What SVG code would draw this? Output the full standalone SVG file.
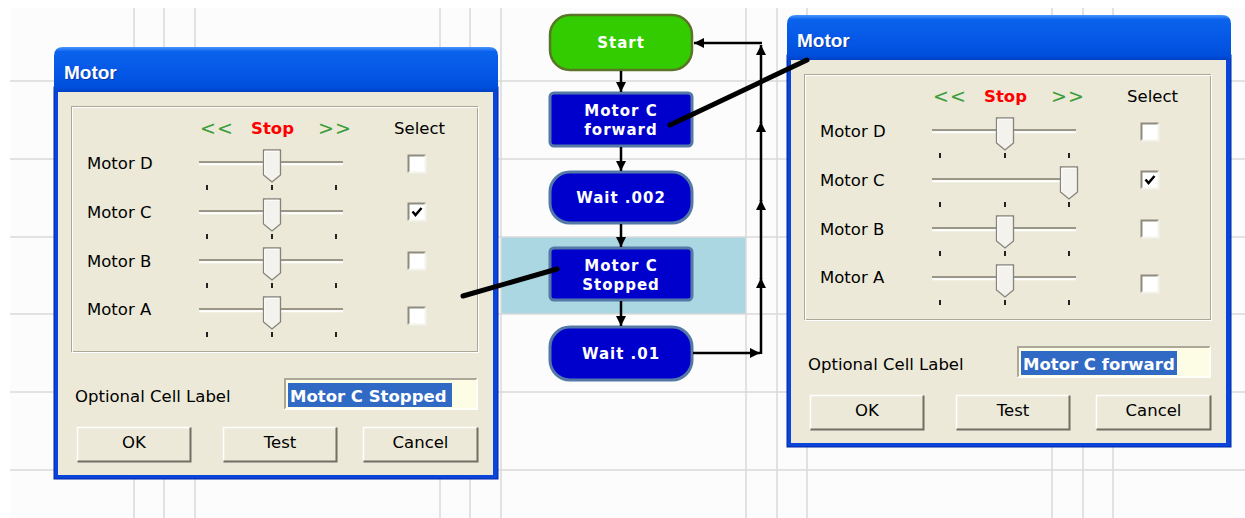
<svg xmlns="http://www.w3.org/2000/svg" xmlns:xlink="http://www.w3.org/1999/xlink" width="1245" height="518" viewBox="0 0 1245 518">
  <style>
    .grid line { stroke: #dadada; stroke-width: 1.5; }
    .lbl { font-family: "DejaVu Sans", Verdana, sans-serif; font-size: 16.5px; fill: #000; }
    .mid { text-anchor: middle; }
    .arrows { fill: #3a9e3a; font-size: 19px; letter-spacing: 1px; }
    .stop { font-weight: bold; fill: #ff0000; }
    .ttl { font-family: "Liberation Sans", Arial, sans-serif; font-weight: bold; font-size: 19px; }
    .seltxt { font-family: "DejaVu Sans", Verdana, sans-serif; font-weight: bold; font-size: 16.5px; fill: #fff; }
    .nodetxt { font-family: "DejaVu Sans", Verdana, sans-serif; font-weight: bold; font-size: 15px; fill: #fff; letter-spacing: 1px; text-anchor: middle; }
    .blue { fill: #0000cc; stroke: #5479a6; stroke-width: 3; }
    .flow { stroke: #000; stroke-width: 2.5; fill: none; marker-end: url(#arr); }
    .callout { stroke: #000; stroke-width: 5; stroke-linecap: round; }
  </style>
  <defs>
    <linearGradient id="tb" x1="0" y1="0" x2="0" y2="1">
      <stop offset="0" stop-color="#4a96ff"/>
      <stop offset="0.1" stop-color="#0a62ec"/>
      <stop offset="0.55" stop-color="#0558e6"/>
      <stop offset="0.9" stop-color="#004fdc"/>
      <stop offset="1" stop-color="#0040c4"/>
    </linearGradient>
    <marker id="arr" markerUnits="userSpaceOnUse" markerWidth="11" markerHeight="10" refX="10" refY="5" orient="auto">
      <path d="M0,0 L10,5 L0,10 Z" fill="#000"/>
    </marker>
    <g id="track">
      <line x1="145" y1="-1" x2="289" y2="-1" stroke="#9a9789" stroke-width="2"/>
      <line x1="145" y1="1.2" x2="289" y2="1.2" stroke="#ffffff" stroke-width="2"/>
    </g>
    <g id="ticks" stroke="#222" stroke-width="2">
      <line x1="153" y1="22" x2="153" y2="27"/>
      <line x1="218" y1="22" x2="218" y2="27"/>
      <line x1="282" y1="22" x2="282" y2="27"/>
    </g>
    <g id="thumb">
      <path d="M-8.5,-13 H8.5 V12 L0,19 L-8.5,12 Z" fill="#f3f2ec" stroke="#85837a" stroke-width="1.3"/>
      <path d="M-7.2,11.5 V-11.8 H7.2" fill="none" stroke="#ffffff" stroke-width="1"/>
    </g>
    <g id="cb">
      <rect x="-8.5" y="-8.5" width="17" height="17" fill="#ffffff"/>
      <path d="M-8.5,8.5 V-8.5 H8.5" fill="none" stroke="#8e8b7e" stroke-width="2"/>
      <path d="M-8.5,8.5 H8.5 V-8.5" fill="none" stroke="#f4f3ee" stroke-width="2"/>
    </g>
    <path id="tick-mark" d="M-4.5,-0.5 L-1.5,3 L4.5,-4" fill="none" stroke="#000" stroke-width="2.5"/>
    <!-- shared window chrome and the rows of sliders -->
    <g id="chrome">
      <rect x="0" y="40" width="444" height="392" fill="#0a44d8" stroke="#0026a8" stroke-width="1"/>
      <path d="M0,45 V9 Q0,0 9,0 H435 Q444,0 444,9 V45 Z" fill="url(#tb)"/>
      <rect x="4" y="45" width="435" height="383" fill="#ece9d8"/>
      <text class="ttl" x="11" y="33" fill="#0a2a80" opacity="0.6">Motor</text>
      <text class="ttl" x="10" y="32" fill="#ffffff">Motor</text>
      <rect x="17.5" y="59.5" width="406" height="245" fill="none" stroke="#aca899"/>
      <rect x="18.5" y="60.5" width="406" height="245" fill="none" stroke="#ffffff"/>
      <text class="lbl arrows mid" x="163" y="88">&lt;&lt;</text>
      <text class="lbl stop mid" x="218.5" y="87">Stop</text>
      <text class="lbl arrows mid" x="281" y="88">&gt;&gt;</text>
      <text class="lbl mid" x="365.5" y="87">Select</text>
      <text class="lbl" x="33" y="122">Motor D</text>
      <text class="lbl" x="33" y="171">Motor C</text>
      <text class="lbl" x="33" y="220">Motor B</text>
      <text class="lbl" x="33" y="268">Motor A</text>
      <use xlink:href="#track" y="116"/>
      <use xlink:href="#track" y="165"/>
      <use xlink:href="#track" y="214"/>
      <use xlink:href="#track" y="263"/>
      <use xlink:href="#ticks" y="116"/>
      <use xlink:href="#ticks" y="165"/>
      <use xlink:href="#ticks" y="214"/>
      <use xlink:href="#ticks" y="263"/>
      <use xlink:href="#cb" x="363" y="117"/>
      <use xlink:href="#cb" x="363" y="165"/>
      <use xlink:href="#tick-mark" x="363" y="165"/>
      <use xlink:href="#cb" x="363" y="214"/>
      <use xlink:href="#cb" x="363" y="269"/>
      <text class="lbl" x="21" y="355">Optional Cell Label</text>
      <rect x="230" y="331" width="194" height="32" fill="#fdfde6"/>
      <path d="M231,362 V332 H423" fill="none" stroke="#aca899" stroke-width="2"/>
      <path d="M231,362 H423 V332" fill="none" stroke="#ffffff" stroke-width="1.5"/>
      <!-- buttons -->
      <g>
        <rect x="23" y="380" width="114" height="35" fill="#ece9d8"/>
        <path d="M23.5,414 V380.5 H136" fill="none" stroke="#ffffff" stroke-width="1.5"/>
        <path d="M23.5,414.5 H136.5 V380.5" fill="none" stroke="#716f64" stroke-width="2"/>
        <text class="lbl mid" x="80" y="401">OK</text>
      </g>
      <g>
        <rect x="169" y="380" width="114" height="35" fill="#ece9d8"/>
        <path d="M169.5,414 V380.5 H282" fill="none" stroke="#ffffff" stroke-width="1.5"/>
        <path d="M169.5,414.5 H282.5 V380.5" fill="none" stroke="#716f64" stroke-width="2"/>
        <text class="lbl mid" x="226" y="401">Test</text>
      </g>
      <g>
        <rect x="309" y="380" width="115" height="35" fill="#ece9d8"/>
        <path d="M309.5,414 V380.5 H423" fill="none" stroke="#ffffff" stroke-width="1.5"/>
        <path d="M309.5,414.5 H423.5 V380.5" fill="none" stroke="#716f64" stroke-width="2"/>
        <text class="lbl mid" x="366.5" y="401">Cancel</text>
      </g>
    </g>
  </defs>

  <!-- page background and grid -->
  <rect width="1245" height="518" fill="#ffffff"/>
  <rect x="10" y="8" width="1235" height="510" fill="#fcfcfc"/>
  <rect x="501" y="237" width="245" height="77" fill="#abd7e2"/>
  <g class="grid">
    <line x1="134" y1="8" x2="134" y2="518"/>
    <line x1="164" y1="8" x2="164" y2="518"/>
    <line x1="195" y1="8" x2="195" y2="518"/>
    <line x1="440" y1="8" x2="440" y2="518"/>
    <line x1="470" y1="8" x2="470" y2="518"/>
    <line x1="501" y1="8" x2="501" y2="518"/>
    <line x1="746" y1="8" x2="746" y2="518"/>
    <line x1="777" y1="8" x2="777" y2="518"/>
    <line x1="807" y1="8" x2="807" y2="518"/>
    <line x1="1052" y1="8" x2="1052" y2="518"/>
    <line x1="1083" y1="8" x2="1083" y2="518"/>
    <line x1="1113" y1="8" x2="1113" y2="518"/>
    <line x1="10" y1="81" x2="1245" y2="81"/>
    <line x1="10" y1="159" x2="1245" y2="159"/>
    <line x1="10" y1="237" x2="1245" y2="237"/>
    <line x1="10" y1="314" x2="1245" y2="314"/>
    <line x1="10" y1="392" x2="1245" y2="392"/>
    <line x1="10" y1="470" x2="1245" y2="470"/>
  </g>

  <!-- settings window for the "Motor C Stopped" cell -->
  <g id="dlg-stopped" transform="translate(54,47)">
    <use xlink:href="#chrome"/>
    <use xlink:href="#thumb" x="218" y="116"/>
    <use xlink:href="#thumb" x="218" y="165"/>
    <use xlink:href="#thumb" x="218" y="214"/>
    <use xlink:href="#thumb" x="218" y="263"/>
    <rect x="234" y="336" width="164" height="24" fill="#316ac5"/>
    <text class="seltxt" x="236" y="355">Motor C Stopped</text>
  </g>

  <!-- settings window for the "Motor C forward" cell -->
  <g id="dlg-forward" transform="translate(787,15)">
    <use xlink:href="#chrome"/>
    <use xlink:href="#thumb" x="218" y="116"/>
    <use xlink:href="#thumb" x="282" y="165"/>
    <use xlink:href="#thumb" x="218" y="214"/>
    <use xlink:href="#thumb" x="218" y="263"/>
    <rect x="234" y="336" width="156" height="24" fill="#316ac5"/>
    <text class="seltxt" x="236" y="355">Motor C forward</text>
  </g>

  <!-- flowchart cells -->
  <g id="n-start">
    <rect x="550" y="15" width="142" height="55" rx="20" fill="#33cc00" stroke="#5a7428" stroke-width="2.5"/>
    <text class="nodetxt" x="621" y="48">Start</text>
  </g>
  <g id="n-fwd">
    <rect class="blue" x="550" y="93" width="142" height="53" rx="4"/>
    <text class="nodetxt" x="621" y="116">Motor C</text>
    <text class="nodetxt" x="621" y="135">forward</text>
  </g>
  <g id="n-wait002">
    <rect class="blue" x="550" y="172" width="142" height="51" rx="20"/>
    <text class="nodetxt" x="621" y="203">Wait .002</text>
  </g>
  <g id="n-stopped">
    <rect class="blue" x="550" y="248" width="142" height="52" rx="4"/>
    <text class="nodetxt" x="621" y="271">Motor C</text>
    <text class="nodetxt" x="621" y="290">Stopped</text>
  </g>
  <g id="n-wait01">
    <rect class="blue" x="550" y="327" width="142" height="53" rx="20"/>
    <text class="nodetxt" x="621" y="359">Wait .01</text>
  </g>

  <!-- connectors -->
  <g id="connectors">
    <line class="flow" x1="621" y1="71" x2="621" y2="92"/>
    <line class="flow" x1="621" y1="147" x2="621" y2="171"/>
    <line class="flow" x1="621" y1="224" x2="621" y2="247"/>
    <line class="flow" x1="621" y1="301" x2="621" y2="326"/>
    <line class="flow" x1="693" y1="353" x2="760" y2="353"/>
    <line class="flow" x1="761" y1="354" x2="761" y2="278"/>
    <line class="flow" x1="761" y1="279" x2="761" y2="200"/>
    <line class="flow" x1="761" y1="201" x2="761" y2="122"/>
    <line class="flow" x1="761" y1="123" x2="761" y2="45"/>
    <line class="flow" x1="762" y1="43" x2="694" y2="43"/>
    <line class="callout" x1="463" y1="296" x2="557" y2="269"/>
    <line class="callout" x1="670" y1="125" x2="807" y2="60"/>
  </g>
</svg>
